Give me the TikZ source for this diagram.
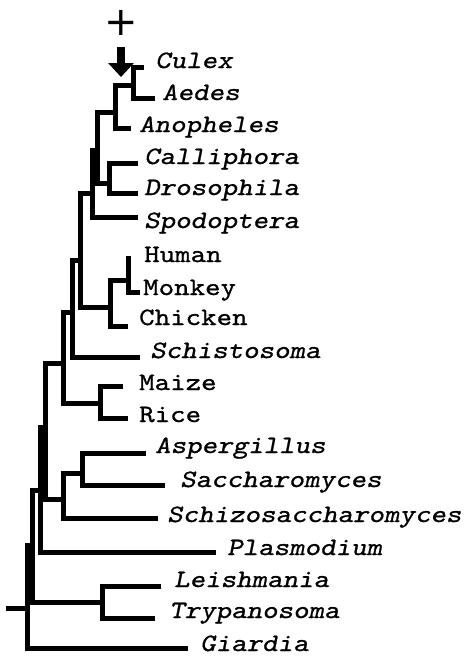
\documentclass[tikz,border=0pt]{standalone}
\usepackage{fontspec}
\newfontfamily\taxfont{lmmono10-regular.otf}[ItalicFont=lmmonoslant10-regular.otf,
    FakeStretch=1.18, FakeBold=0.9]
\newfontfamily\signfont{DejaVu Sans}
\usetikzlibrary{arrows.meta}

\begin{document}
\begin{tikzpicture}[
    x=1pt, y=-1pt,                    % one unit = one pixel of the figure
    branch/.style={line width=5pt, line cap=rect},
    taxon/.style={anchor=base west, inner sep=0pt,
                  font=\taxfont\fontsize{25}{30}\selectfont},
    genus/.style={taxon, font=\taxfont\fontsize{25}{30}\selectfont\itshape},
    arrow/.style={-{Triangle[length=14pt, width=25pt]}, line width=8pt}
]
\useasboundingbox (0,0) rectangle (468,657);

% internal nodes (x of the vertical, y where the parent joins)
\coordinate (n1)   at (133,85);
\coordinate (n2)   at (115,112);
\coordinate (n3)   at (109,183);
\coordinate (n4)   at (97,150);
\coordinate (n5)   at (92,193);
\coordinate (n6)   at (128,280);
\coordinate (n7)   at (110,307);
\coordinate (n8)   at (80,260);
\coordinate (n9)   at (72,312);
\coordinate (n10)  at (100,403);
\coordinate (n11)  at (63,363);
\coordinate (n12)  at (82,473);
\coordinate (n13)  at (63,499);
\coordinate (n14)  at (45,427);
\coordinate (n15)  at (40,490);
\coordinate (n16)  at (102,602);
\coordinate (n17)  at (32,545);
\coordinate (root) at (27,608);
\coordinate (stub) at (8,608);

% branch tips
\coordinate (t-culex)   at (141,67);
\coordinate (t-aedes)   at (152,98);
\coordinate (t-anoph)   at (128,128);
\coordinate (t-calli)   at (135,163);
\coordinate (t-droso)   at (135,193);
\coordinate (t-spodo)   at (135,217);
\coordinate (t-human)   at (128,258);
\coordinate (t-monkey)  at (137,292);
\coordinate (t-chicken) at (125,326);
\coordinate (t-schisto) at (137,357);
\coordinate (t-maize)   at (120,386);
\coordinate (t-rice)    at (125,418);
\coordinate (t-asperg)  at (143,453);
\coordinate (t-sacch)   at (162,485);
\coordinate (t-schizo)  at (155,518);
\coordinate (t-plasmo)  at (213,552);
\coordinate (t-leish)   at (158,586);
\coordinate (t-trypa)   at (152,618);
\coordinate (t-giardia) at (185,648);

% labels
\node (culex)   [genus] at (155,68)  {Culex};
\node (aedes)   [genus] at (162,100) {Aedes};
\node (anoph)   [genus] at (139,132) {Anopheles};
\node (calli)   [genus] at (144,164) {Calliphora};
\node (droso)   [genus] at (144,195) {Drosophila};
\node (spodo)   [genus] at (144,228) {Spodoptera};
\node (human)   [taxon] at (144,262) {Human};
\node (monkey)  [taxon] at (143,295) {Monkey};
\node (chicken) [taxon] at (139,325) {Chicken};
\node (schisto) [genus] at (150,358) {Schistosoma};
\node (maize)   [taxon] at (139,390) {Maize};
\node (rice)    [taxon] at (139,422) {Rice};
\node (asperg)  [genus] at (155,453) {Aspergillus};
\node (sacch)   [genus] at (180,487) {Saccharomyces};
\node (schizo)  [genus] at (167,522) {Schizosaccharomyces};
\node (plasmo)  [genus] at (227,555) {Plasmodium};
\node (leish)   [genus] at (174,587) {Leishmania};
\node (trypa)   [genus] at (169,618) {Trypanosoma};
\node (giardia) [genus] at (200,651) {Giardia};

% the tree
\draw [branch] (n1)   |- (t-culex);
\draw [branch] (n1)   |- (t-aedes);
\draw [branch] (n2)   |- (n1);
\draw [branch] (n2)   |- (t-anoph);
\draw [branch] (n3)   |- (t-calli);
\draw [branch] (n3)   |- (t-droso);
\draw [branch] (n4)   |- (n2);
\draw [branch] (n4)   |- (n3);
\draw [branch] (n5)   |- (n4);
\draw [branch] (n5)   |- (t-spodo);
\draw [branch] (n6)   |- (t-human);
\draw [branch] (n6)   |- (t-monkey);
\draw [branch] (n7)   |- (n6);
\draw [branch] (n7)   |- (t-chicken);
\draw [branch] (n8)   |- (n5);
\draw [branch] (n8)   |- (n7);
\draw [branch] (n9)   |- (n8);
\draw [branch] (n9)   |- (t-schisto);
\draw [branch] (n10)  |- (t-maize);
\draw [branch] (n10)  |- (t-rice);
\draw [branch] (n11)  |- (n9);
\draw [branch] (n11)  |- (n10);
\draw [branch] (n12)  |- (t-asperg);
\draw [branch] (n12)  |- (t-sacch);
\draw [branch] (n13)  |- (n12);
\draw [branch] (n13)  |- (t-schizo);
\draw [branch] (n14)  |- (n11);
\draw [branch] (n14)  |- (n13);
\draw [branch] (n15)  |- (n14);
\draw [branch] (n15)  |- (t-plasmo);
\draw [branch] (n16)  |- (t-leish);
\draw [branch] (n16)  |- (t-trypa);
\draw [branch] (n17)  |- (n15);
\draw [branch] (n17)  |- (n16);
\draw [branch] (root) |- (n17);
\draw [branch] (root) |- (t-giardia);
\draw [branch] (stub) -- (root);

% plus sign and arrow
\node (plus) [inner sep=0pt, font=\signfont\fontsize{40}{40}\selectfont] at (121,23) {+};
\coordinate (a-top) at (121,47);
\coordinate (a-tip) at (121,77);
\draw [arrow] (a-top) -- (a-tip);
\end{tikzpicture}
\end{document}
